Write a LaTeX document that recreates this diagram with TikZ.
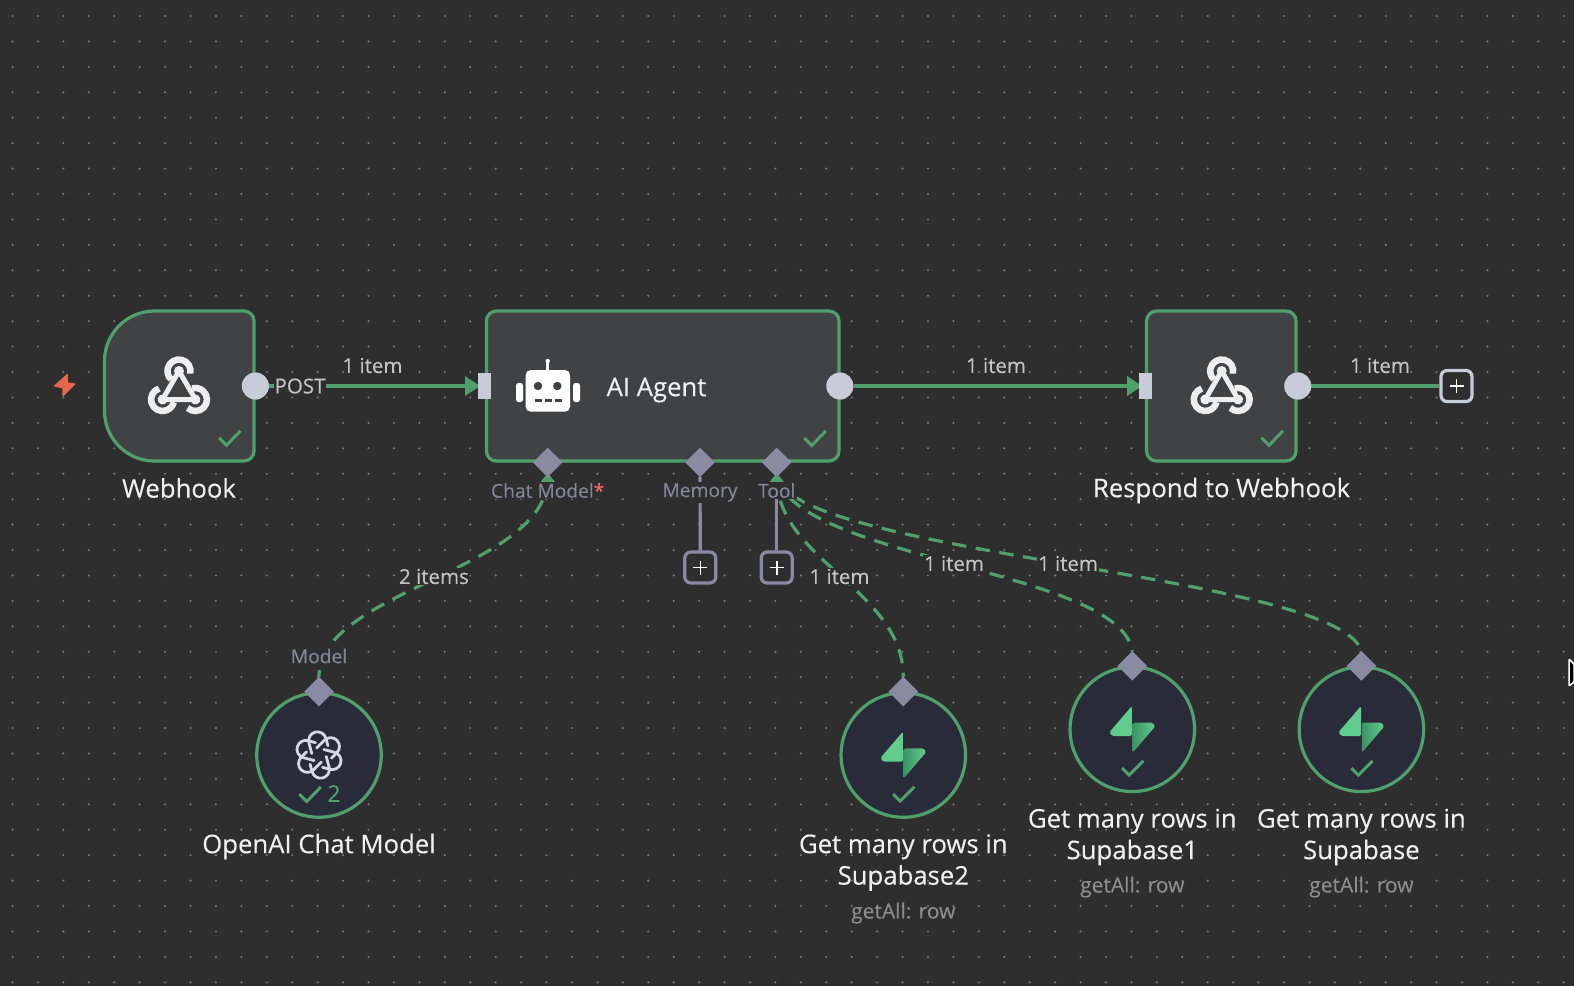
\documentclass[tikz,border=0pt]{standalone}
\usepackage{fontspec}
\setmainfont[FakeBold=0.25]{Open Sans}
\usetikzlibrary{shapes.geometric}
\definecolor{bgc}{HTML}{2E2E2E}
\definecolor{dotc}{HTML}{7A7A7A}
\definecolor{boxc}{HTML}{414244}
\definecolor{circc}{HTML}{2A2B39}
\definecolor{grn}{HTML}{4FA06C}
\definecolor{portc}{HTML}{C8CCD8}
\definecolor{diac}{HTML}{8A8AA3}
\definecolor{lab}{HTML}{F0F0F0}
\definecolor{elab}{HTML}{C4C4C4}
\definecolor{plab}{HTML}{85859A}
\definecolor{sublab}{HTML}{8C8C8C}
\definecolor{bolt}{HTML}{E5654D}
\definecolor{supa}{HTML}{62CC8E}
\definecolor{supad}{HTML}{3A9465}
\definecolor{iconw}{HTML}{EEEEEE}
\definecolor{oai}{HTML}{D8D8E2}
\tikzset{
  x=1pt,y=-1pt,
  flow/.style={draw=grn,line width=3.2pt},
  dashflow/.style={draw=grn,line width=3.2pt,dash pattern=on 14.5pt off 9.5pt},
  stub/.style={draw=diac,line width=3.2pt},
  boxnode/.style={draw=grn,fill=boxc,line width=3.2pt,rounded corners=10pt,inner sep=0pt},
  circnode/.style={circle,draw=grn,fill=circc,line width=3.2pt,minimum size=124.5pt,inner sep=0pt},
  outport/.style={circle,fill=portc,minimum size=27pt,inner sep=0pt},
  inport/.style={rectangle,fill=portc,minimum width=13.5pt,minimum height=26pt,inner sep=0pt},
  diaport/.style={diamond,fill=diac,minimum width=29.5pt,minimum height=29.5pt,inner sep=0pt},
  plusbox/.style={rectangle,rounded corners=6pt,line width=3.2pt,fill=bgc,minimum size=31pt,inner sep=0pt},
  nodelab/.style={text=lab,font=\fontsize{25.7}{31.5}\selectfont,align=center,inner sep=0pt},
  sublabel/.style={text=sublab,font=\fontsize{21}{26}\selectfont,inner sep=0pt},
  edgelab/.style={text=elab,fill=bgc,font=\fontsize{20.5}{26}\selectfont,inner sep=1pt},
  portlab/.style={text=plab,fill=bgc,font=\fontsize{19.2}{26}\selectfont,inner sep=1.5pt},
  okcheck/.style={draw=grn,line width=3pt},
}
\newcommand{\webhookicon}[1]{%
  \begin{scope}[shift={(#1)}]
    \foreach \a in {0,120,240}{
      \begin{scope}[rotate=\a]
        \draw[draw=iconw,line width=6.5pt] (0,-19) ++(13:11.5) arc[start angle=13,end angle=-227,radius=11.5];
        \draw[draw=iconw,line width=5pt] (0,-19) -- (16.5,9.5);
        \fill[iconw] (0,-19) circle[radius=5];
      \end{scope}
    }
  \end{scope}}
\newcommand{\supaicon}[1]{%
  \begin{scope}[shift={(#1)}]
    \shade[left color=supad,right color=supa,rounded corners=1.5pt] (0.4,-6.7) -- (20,-6.7) -- (23,-3) -- (0.4,23.3) -- cycle;
    \fill[supa,rounded corners=1.5pt] (-0.4,-23.3) -- (-0.4,6.7) -- (-20,6.7) -- (-23,3) -- cycle;
  \end{scope}}
\newcommand{\chk}[1]{\draw[okcheck,shift={(#1)}] (-14.5,0) -- (-7,7.5) -- (7,-7);}
\newcommand{\plusmark}[1]{\draw[white,line width=1.6pt] (#1.center) +(-7,0) -- +(7,0) (#1.center) +(0,-7) -- +(0,7);}
\begin{document}
\begin{tikzpicture}
\useasboundingbox (0,0) rectangle (1574,986);
\fill[bgc] (0,0) rectangle (1574,986);
\foreach \i in {0,...,61}{\foreach \j in {0,...,38}{
  \fill[dotc] ({12.5+25.43*\i},{16+25.43*\j}) circle[radius=1.15];}}

% port and node anchors
\node[outport] (wout) at (255.3,386) {};
\node[inport] (ain) at (484.3,386) {};
\node[outport] (aout) at (839.8,386) {};
\node[inport] (rin) at (1145.5,386) {};
\node[outport] (rout) at (1297.7,386) {};
\node[plusbox,draw=portc] (rplus) at (1456.5,386) {};
\node[diaport] (dchat) at (547.7,462.3) {};
\node[diaport] (dmem) at (700,462.3) {};
\node[diaport] (dtool) at (776.7,462.3) {};
\node[plusbox,draw=diac] (pmem) at (700.3,567.5) {};
\node[plusbox,draw=diac] (ptool) at (776.7,567.5) {};
\node[diaport] (dmodel) at (319,691.7) {};
\node[diaport] (ds2) at (903.3,691.7) {};
\node[diaport] (ds1) at (1132.3,666) {};
\node[diaport] (ds0) at (1361.4,666) {};

% connectors
\draw[flow] (wout) -- (ain);
\draw[flow] (aout) -- (rin);
\draw[flow] (rout) -- (rplus);
\fill[grn] (465,376) -- (480,386) -- (465,396) -- cycle;
\fill[grn] (1127,376) -- (1142,386) -- (1127,396) -- cycle;
\fill[grn] (540.5,482) -- (547.7,473) -- (555,482) -- cycle;
\fill[grn] (769.5,482) -- (776.7,473) -- (784,482) -- cycle;
\draw[stub] (dmem) -- (pmem);
\draw[stub] (dtool) -- (ptool);
\draw[dashflow] (dchat.south) .. controls (547.7,570) and (319,590) .. (dmodel.north);
\draw[dashflow] (dtool.south) .. controls (776.7,560) and (903.3,590) .. (ds2.north);
\draw[dashflow] (dtool.south) .. controls (800,560) and (1120,570) .. (ds1.north);
\draw[dashflow] (dtool.south) .. controls (800,555) and (1340,575) .. (ds0.north);
\plusmark{rplus}
\plusmark{pmem}
\plusmark{ptool}

% edge labels
\node[edgelab] (e1) at (300,386) {POST};
\node[edgelab,fill=none] (e2) at (372.5,365.5) {1 item};
\node[edgelab,fill=none] (e3) at (996,365.5) {1 item};
\node[edgelab,fill=none] (e4) at (1380,365.5) {1 item};
\node[edgelab] (e5) at (434,576.5) {2 items};
\node[edgelab] (e6) at (839.5,576.5) {1 item};
\node[edgelab] (e7) at (954,563.5) {1 item};
\node[edgelab] (e8) at (1068,563.5) {1 item};
\node[portlab] (lchat) at (547.7,490.5) {Chat Model\textcolor{red!60!white}{*}};
\node[portlab] (lmem) at (700,492.5) {Memory};
\node[portlab] (ltool) at (776.7,490.5) {Tool};
\node[portlab] (lmodel) at (319,656) {Model};

% boxes
\path[draw=grn,fill=boxc,line width=3.2pt] (254,321) arc[start angle=0,end angle=-90,radius=10] -- (154.5,311) arc[start angle=-90,end angle=-180,radius=50] -- (104.5,411) arc[start angle=180,end angle=90,radius=50] -- (244,461) arc[start angle=90,end angle=0,radius=10] -- cycle;
\node[boxnode,minimum width=352.6pt,minimum height=150pt] (agent) at (662.7,386) {};
\node[boxnode,minimum width=149.5pt,minimum height=150pt] (resp) at (1221.3,386) {};
\node[circnode] (openai) at (319,755) {};
\node[circnode] (s2) at (903.3,755) {};
\node[circnode] (s1) at (1132.3,729.3) {};
\node[circnode] (s0) at (1361.4,729.3) {};

% redraw ports on top
\node[outport] at (255.3,386) {};
\node[inport] at (484.3,386) {};
\node[outport] at (839.8,386) {};
\node[inport] at (1145.5,386) {};
\node[outport] at (1297.7,386) {};
\node[diaport] at (547.7,462.3) {};
\node[diaport] at (700,462.3) {};
\node[diaport] at (776.7,462.3) {};
\node[diaport] at (319,691.7) {};
\node[diaport] at (903.3,691.7) {};
\node[diaport] at (1132.3,666) {};
\node[diaport] at (1361.4,666) {};

% icons
\path[fill=bolt,draw=bolt,line width=1.5pt,line join=round] (67.3,374.5) -- (54.8,386) -- (63,387.5) -- (63,395.5) -- (74.5,384) -- (67,383) -- cycle;
\webhookicon{179,390}
\webhookicon{1221.7,390}
% robot
\fill[white,rounded corners=5pt] (525.7,370) rectangle (570,411.7);
\fill[white] (546.2,361) rectangle (549.2,372);
\fill[white] (547.7,361) circle[radius=2.2];
\fill[white,rounded corners=2.5pt] (516,383) rectangle (523,402);
\fill[white,rounded corners=2.5pt] (573,383) rectangle (580,402);
\fill[boxc] (538,386) circle[radius=4.2];
\fill[boxc] (557.3,386) circle[radius=4.2];
\foreach \x in {535,545,555}{\fill[boxc] (\x,399) rectangle ++(6.5,3);}
\node[nodelab,anchor=center] (aitext) at (656.5,390) {AI Agent};
% openai
\begin{scope}[shift={(319,755)}]
  \foreach \a in {0,60,...,300}{
    \begin{scope}[rotate=\a+15]
      \draw[draw=oai,line width=2.8pt,line cap=round,line join=round]
        (-6.6,-3.3) -- (-6.6,-14.3) arc[start angle=180,end angle=360,radius=8.8] -- (11,-6.6);
    \end{scope}}
\end{scope}
\supaicon{903.3,755}
\supaicon{1132.3,729.3}
\supaicon{1361.4,729.3}
% check marks
\chk{233.5,437.8}
\chk{818.8,438}
\chk{1276,437.8}
\chk{313.8,794}
\draw[okcheck,shift={(903.3,794)},scale=.95] (-10.7,0) -- (-3.3,7.5) -- (11.7,-7.5);
\draw[okcheck,shift={(1132.3,768)},scale=.95] (-10.7,0) -- (-3.3,7.5) -- (11.7,-7.5);
\draw[okcheck,shift={(1361.4,768)},scale=.95] (-10.7,0) -- (-3.3,7.5) -- (11.7,-7.5);
\node[text=grn,inner sep=0pt,font=\fontsize{23}{26}\selectfont] (two) at (334,793.5) {2};

% node labels
\node[nodelab] (l1) at (179,488) {Webhook};
\node[nodelab] (l2) at (1221.5,490.5) {Respond to Webhook};
\node[nodelab] (l3) at (319,846.5) {OpenAI Chat Model};
\node[nodelab] (l4) at (903.3,862.5) {Get many rows in\\Supabase2};
\node[nodelab] (l5) at (1132.3,837) {Get many rows in\\Supabase1};
\node[nodelab] (l6) at (1361.4,837) {Get many rows in\\Supabase};
\node[sublabel] (s4) at (903.3,913) {getAll: row};
\node[sublabel] (s5) at (1132.3,887) {getAll: row};
\node[sublabel] (s6) at (1361.4,887) {getAll: row};
% cursor
\path[draw=white,fill=black,line width=1.5pt,rounded corners=1pt] (1569,659) -- (1574,664) -- (1574,682) -- (1569,686) -- cycle;
\end{tikzpicture}
\end{document}
